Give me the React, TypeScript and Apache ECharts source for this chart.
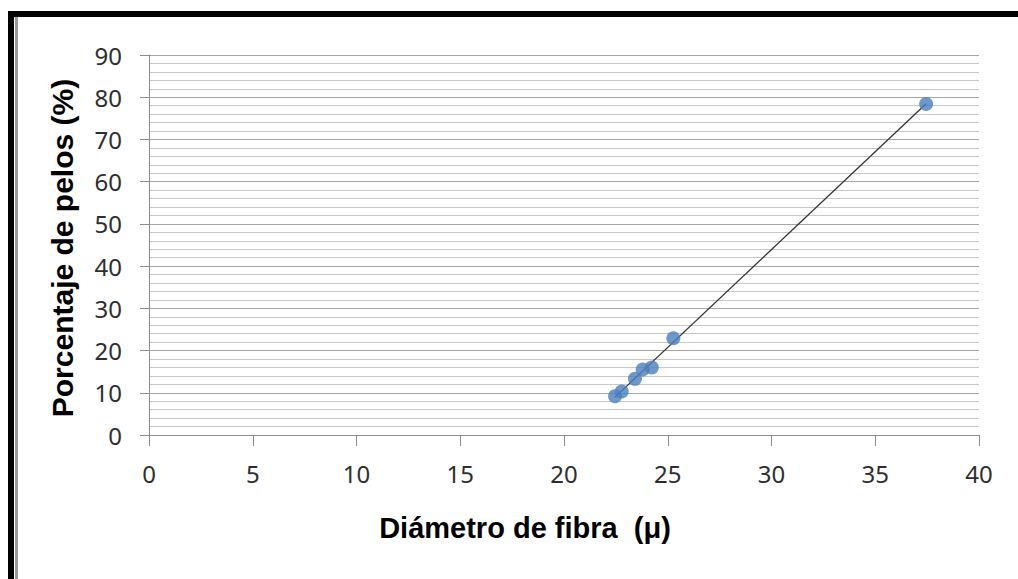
import React, { useEffect, useRef } from "react";
import * as echarts from "echarts";

const diameters: number[] = [22.46, 22.78, 23.42, 23.79, 24.23, 25.27, 37.45];
const percentages: number[] = [9.2, 10.3, 13.3, 15.5, 16.0, 22.9, 78.4];
const xTitle = "Diámetro de fibra  (μ)";
const yTitle = "Porcentaje de pelos (%)";

function linearFit(xs: number[], ys: number[]) {
  const n = xs.length;
  const mx = xs.reduce((a, b) => a + b, 0) / n;
  const my = ys.reduce((a, b) => a + b, 0) / n;
  let sxy = 0;
  let sxx = 0;
  for (let i = 0; i < n; i++) {
    sxy += (xs[i] - mx) * (ys[i] - my);
    sxx += (xs[i] - mx) * (xs[i] - mx);
  }
  const slope = sxy / sxx;
  return { slope, intercept: my - slope * mx };
}

export default function App() {
  const ref = useRef<HTMLDivElement>(null);
  useEffect(() => {
    if (!ref.current) return;
    const chart = echarts.init(ref.current, null, { renderer: "svg" });
    const fit = linearFit(diameters, percentages);
    const xMin = Math.min(...diameters);
    const xMax = Math.max(...diameters);
    const trend = [xMin, xMax].map((x) => [x, fit.slope * x + fit.intercept]);
    const labelFont = "Noto Sans";
    chart.setOption({
      animation: false,
      backgroundColor: "#ffffff",
      grid: { left: 149, right: 39, top: 55, bottom: 144, containLabel: false },
      xAxis: {
        type: "value",
        min: 0,
        max: 40,
        interval: 5,
        axisLine: { show: true, lineStyle: { color: "#8c8c8c", width: 1 } },
        axisTick: { show: true, length: 11, lineStyle: { color: "#8c8c8c" } },
        axisLabel: { margin: 26, fontFamily: labelFont, fontSize: 24, color: "#2e2e2e" },
        splitLine: { show: false },
      },
      yAxis: {
        type: "value",
        min: 0,
        max: 90,
        interval: 10,
        axisLine: { show: true, lineStyle: { color: "#8c8c8c", width: 1 } },
        axisTick: { show: true, length: 9, lineStyle: { color: "#8c8c8c" } },
        axisLabel: { margin: 27, fontFamily: labelFont, fontSize: 24, color: "#2e2e2e" },
        splitLine: { show: true, lineStyle: { color: "#a6a6a6", width: 1 } },
        minorTick: { show: false, splitNumber: 5 },
        minorSplitLine: { show: true, lineStyle: { color: "#c8c8c8", width: 1 } },
      },
      series: [
        {
          type: "line",
          data: trend,
          symbol: "none",
          lineStyle: { color: "#333333", width: 1.3 },
          z: 2,
        },
        {
          type: "scatter",
          data: diameters.map((x, i) => [x, percentages[i]]),
          symbol: "circle",
          symbolSize: 14,
          itemStyle: { color: "#4a7ebb", borderColor: "#4a7ebb", borderWidth: 0 },
          z: 3,
        },
      ],
      graphic: [
        { type: "rect", shape: { x: 8, y: 11, width: 1010, height: 6 }, style: { fill: "#000000" } },
        { type: "rect", shape: { x: 8, y: 11, width: 6, height: 568 }, style: { fill: "#000000" } },
        { type: "rect", shape: { x: 15, y: 17, width: 3, height: 562 }, style: { fill: "#9a9a9a" } },
        {
          type: "text",
          x: 62,
          y: 248,
          rotation: Math.PI / 2,
          style: {
            text: yTitle,
            font: "bold 30px 'Liberation Sans', Arial, sans-serif",
            fill: "#000000",
            textAlign: "center",
            textVerticalAlign: "middle",
          },
        },
        {
          type: "text",
          x: 525,
          y: 528,
          style: {
            text: xTitle,
            font: "bold 29px 'Liberation Sans', Arial, sans-serif",
            fill: "#000000",
            textAlign: "center",
            textVerticalAlign: "middle",
          },
        },
      ],
    });
    return () => chart.dispose();
  }, []);
  return (
    <div
      ref={ref}
      style={{ position: "fixed", left: 0, top: 0, width: 1018, height: 579 }}
    />
  );
}
